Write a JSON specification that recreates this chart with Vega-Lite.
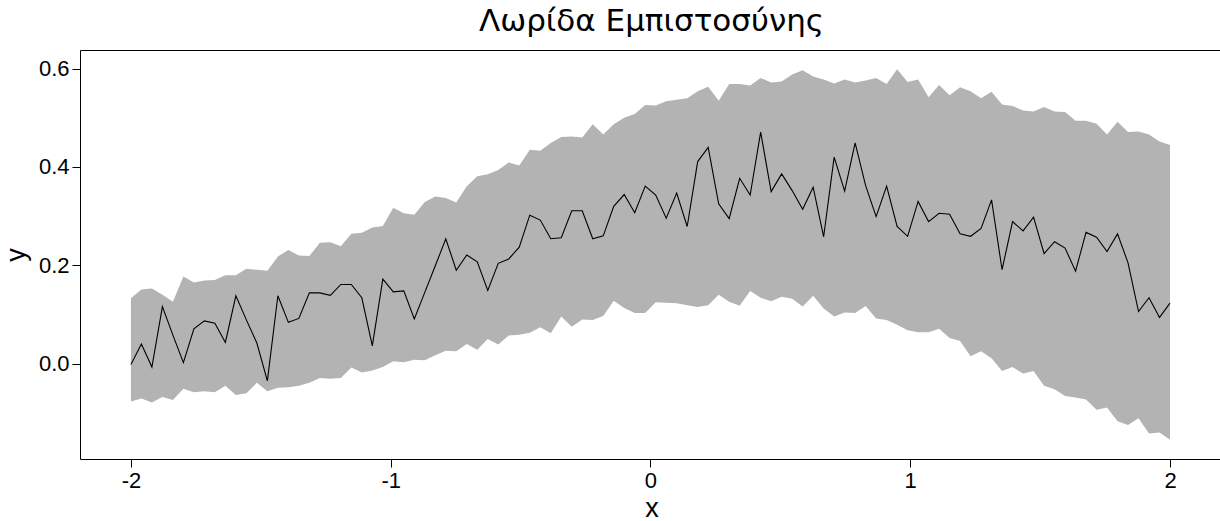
{
  "$schema": "https://vega.github.io/schema/vega-lite/v6.json",
  "autosize": {"type": "none"},
  "padding": {"left": 80, "top": 50, "right": 0, "bottom": 62},
  "width": 1143,
  "height": 409,
  "background": "white",
  "title": {"text": "Λωρίδα Εμπιστοσύνης", "font": "DejaVu Sans", "fontSize": 31, "fontWeight": "normal", "color": "black", "anchor": "middle", "baseline": "alphabetic", "offset": -12},
  "config": {
    "view": {"stroke": "black", "strokeWidth": 1},
    "axis": {"grid": false, "domain": false, "tickColor": "black", "tickSize": 8, "labelColor": "black", "labelFont": "Liberation Sans", "labelFontSize": 22, "titleFont": "Liberation Sans", "titleFontSize": 27, "titleFontWeight": "normal", "titleColor": "black", "labelPadding": 3}
  },
  "data": {"values": [
    {"x": -2, "y": -0.002, "lo": -0.077, "hi": 0.133},
    {"x": -1.9596, "y": 0.040, "lo": -0.071, "hi": 0.151},
    {"x": -1.9192, "y": -0.007, "lo": -0.079, "hi": 0.153},
    {"x": -1.8788, "y": 0.116, "lo": -0.068, "hi": 0.140},
    {"x": -1.8384, "y": 0.058, "lo": -0.074, "hi": 0.126},
    {"x": -1.798, "y": 0.002, "lo": -0.051, "hi": 0.177},
    {"x": -1.7576, "y": 0.071, "lo": -0.058, "hi": 0.165},
    {"x": -1.7172, "y": 0.087, "lo": -0.056, "hi": 0.169},
    {"x": -1.6768, "y": 0.082, "lo": -0.058, "hi": 0.170},
    {"x": -1.6364, "y": 0.043, "lo": -0.045, "hi": 0.180},
    {"x": -1.596, "y": 0.138, "lo": -0.064, "hi": 0.180},
    {"x": -1.5556, "y": 0.089, "lo": -0.060, "hi": 0.193},
    {"x": -1.5152, "y": 0.042, "lo": -0.039, "hi": 0.191},
    {"x": -1.4747, "y": -0.035, "lo": -0.056, "hi": 0.189},
    {"x": -1.4343, "y": 0.138, "lo": -0.049, "hi": 0.218},
    {"x": -1.3939, "y": 0.084, "lo": -0.048, "hi": 0.231},
    {"x": -1.3535, "y": 0.092, "lo": -0.045, "hi": 0.220},
    {"x": -1.3131, "y": 0.144, "lo": -0.039, "hi": 0.219},
    {"x": -1.2727, "y": 0.144, "lo": -0.029, "hi": 0.246},
    {"x": -1.2323, "y": 0.139, "lo": -0.031, "hi": 0.247},
    {"x": -1.1919, "y": 0.161, "lo": -0.029, "hi": 0.239},
    {"x": -1.1515, "y": 0.161, "lo": -0.008, "hi": 0.264},
    {"x": -1.1111, "y": 0.134, "lo": -0.018, "hi": 0.266},
    {"x": -1.0707, "y": 0.036, "lo": -0.014, "hi": 0.277},
    {"x": -1.0303, "y": 0.172, "lo": -0.007, "hi": 0.280},
    {"x": -0.9899, "y": 0.146, "lo": 0.005, "hi": 0.317},
    {"x": -0.9495, "y": 0.148, "lo": 0.003, "hi": 0.306},
    {"x": -0.9091, "y": 0.091, "lo": 0.008, "hi": 0.303},
    {"x": -0.8687, "y": 0.145, "lo": 0.007, "hi": 0.329},
    {"x": -0.8283, "y": 0.199, "lo": 0.017, "hi": 0.340},
    {"x": -0.7879, "y": 0.254, "lo": 0.026, "hi": 0.337},
    {"x": -0.7475, "y": 0.190, "lo": 0.025, "hi": 0.328},
    {"x": -0.7071, "y": 0.221, "lo": 0.040, "hi": 0.361},
    {"x": -0.6667, "y": 0.207, "lo": 0.028, "hi": 0.381},
    {"x": -0.6263, "y": 0.149, "lo": 0.050, "hi": 0.385},
    {"x": -0.5859, "y": 0.204, "lo": 0.039, "hi": 0.394},
    {"x": -0.5455, "y": 0.213, "lo": 0.057, "hi": 0.409},
    {"x": -0.5051, "y": 0.237, "lo": 0.059, "hi": 0.403},
    {"x": -0.4646, "y": 0.302, "lo": 0.063, "hi": 0.435},
    {"x": -0.4242, "y": 0.292, "lo": 0.074, "hi": 0.433},
    {"x": -0.3838, "y": 0.254, "lo": 0.062, "hi": 0.449},
    {"x": -0.3434, "y": 0.256, "lo": 0.096, "hi": 0.461},
    {"x": -0.303, "y": 0.311, "lo": 0.075, "hi": 0.462},
    {"x": -0.2626, "y": 0.311, "lo": 0.090, "hi": 0.460},
    {"x": -0.2222, "y": 0.254, "lo": 0.089, "hi": 0.487},
    {"x": -0.1818, "y": 0.260, "lo": 0.097, "hi": 0.466},
    {"x": -0.1414, "y": 0.320, "lo": 0.128, "hi": 0.487},
    {"x": -0.101, "y": 0.344, "lo": 0.113, "hi": 0.500},
    {"x": -0.0606, "y": 0.307, "lo": 0.103, "hi": 0.508},
    {"x": -0.0202, "y": 0.361, "lo": 0.103, "hi": 0.526},
    {"x": 0.0202, "y": 0.343, "lo": 0.125, "hi": 0.525},
    {"x": 0.0606, "y": 0.296, "lo": 0.124, "hi": 0.534},
    {"x": 0.101, "y": 0.347, "lo": 0.123, "hi": 0.537},
    {"x": 0.1414, "y": 0.279, "lo": 0.119, "hi": 0.540},
    {"x": 0.1818, "y": 0.411, "lo": 0.115, "hi": 0.554},
    {"x": 0.2222, "y": 0.440, "lo": 0.119, "hi": 0.563},
    {"x": 0.2626, "y": 0.325, "lo": 0.140, "hi": 0.535},
    {"x": 0.303, "y": 0.295, "lo": 0.126, "hi": 0.569},
    {"x": 0.3434, "y": 0.377, "lo": 0.118, "hi": 0.569},
    {"x": 0.3838, "y": 0.343, "lo": 0.148, "hi": 0.566},
    {"x": 0.4242, "y": 0.471, "lo": 0.134, "hi": 0.581},
    {"x": 0.4646, "y": 0.350, "lo": 0.127, "hi": 0.572},
    {"x": 0.5051, "y": 0.386, "lo": 0.136, "hi": 0.574},
    {"x": 0.5455, "y": 0.352, "lo": 0.132, "hi": 0.588},
    {"x": 0.5859, "y": 0.314, "lo": 0.116, "hi": 0.597},
    {"x": 0.6263, "y": 0.359, "lo": 0.138, "hi": 0.584},
    {"x": 0.6667, "y": 0.258, "lo": 0.112, "hi": 0.578},
    {"x": 0.7071, "y": 0.420, "lo": 0.096, "hi": 0.570},
    {"x": 0.7475, "y": 0.351, "lo": 0.104, "hi": 0.578},
    {"x": 0.7879, "y": 0.449, "lo": 0.103, "hi": 0.572},
    {"x": 0.8283, "y": 0.362, "lo": 0.117, "hi": 0.576},
    {"x": 0.8687, "y": 0.299, "lo": 0.092, "hi": 0.581},
    {"x": 0.9091, "y": 0.361, "lo": 0.089, "hi": 0.569},
    {"x": 0.9495, "y": 0.279, "lo": 0.079, "hi": 0.599},
    {"x": 0.9899, "y": 0.259, "lo": 0.068, "hi": 0.573},
    {"x": 1.0303, "y": 0.330, "lo": 0.064, "hi": 0.578},
    {"x": 1.0707, "y": 0.289, "lo": 0.064, "hi": 0.542},
    {"x": 1.1111, "y": 0.306, "lo": 0.071, "hi": 0.567},
    {"x": 1.1515, "y": 0.304, "lo": 0.052, "hi": 0.546},
    {"x": 1.1919, "y": 0.264, "lo": 0.046, "hi": 0.562},
    {"x": 1.2323, "y": 0.259, "lo": 0.015, "hi": 0.554},
    {"x": 1.2727, "y": 0.275, "lo": 0.025, "hi": 0.540},
    {"x": 1.3131, "y": 0.333, "lo": 0.011, "hi": 0.553},
    {"x": 1.3535, "y": 0.191, "lo": -0.015, "hi": 0.527},
    {"x": 1.3939, "y": 0.289, "lo": -0.007, "hi": 0.524},
    {"x": 1.4343, "y": 0.270, "lo": -0.020, "hi": 0.515},
    {"x": 1.4747, "y": 0.298, "lo": -0.015, "hi": 0.513},
    {"x": 1.5152, "y": 0.224, "lo": -0.045, "hi": 0.522},
    {"x": 1.5556, "y": 0.248, "lo": -0.052, "hi": 0.513},
    {"x": 1.596, "y": 0.235, "lo": -0.066, "hi": 0.512},
    {"x": 1.6364, "y": 0.188, "lo": -0.069, "hi": 0.494},
    {"x": 1.6768, "y": 0.267, "lo": -0.073, "hi": 0.494},
    {"x": 1.7172, "y": 0.257, "lo": -0.094, "hi": 0.488},
    {"x": 1.7576, "y": 0.228, "lo": -0.089, "hi": 0.466},
    {"x": 1.798, "y": 0.264, "lo": -0.117, "hi": 0.492},
    {"x": 1.8384, "y": 0.205, "lo": -0.125, "hi": 0.471},
    {"x": 1.8788, "y": 0.106, "lo": -0.111, "hi": 0.472},
    {"x": 1.9192, "y": 0.134, "lo": -0.142, "hi": 0.466},
    {"x": 1.9596, "y": 0.094, "lo": -0.140, "hi": 0.452},
    {"x": 2, "y": 0.123, "lo": -0.155, "hi": 0.445}
  ]},
  "encoding": {
    "x": {"field": "x", "type": "quantitative",
      "scale": {"domain": [-2.196, 2.204], "nice": false, "zero": false},
      "axis": {"values": [-2, -1, 0, 1, 2], "title": "x", "labelExpr": "datum.value < 0 ? '-' + abs(datum.value) : '' + datum.value", "titlePadding": 4}}
  },
  "layer": [
    {"mark": {"type": "area", "color": "#b3b3b3", "opacity": 1, "clip": true},
     "encoding": {
       "y": {"field": "lo", "type": "quantitative",
         "scale": {"domain": [-0.194, 0.638], "nice": false, "zero": false},
         "axis": {"values": [0, 0.2, 0.4, 0.6], "format": ".1f", "title": "y", "titlePadding": 8}},
       "y2": {"field": "hi"}
     }},
    {"mark": {"type": "line", "color": "black", "strokeWidth": 1.1, "clip": true},
     "encoding": {"y": {"field": "y", "type": "quantitative"}}}
  ]
}
